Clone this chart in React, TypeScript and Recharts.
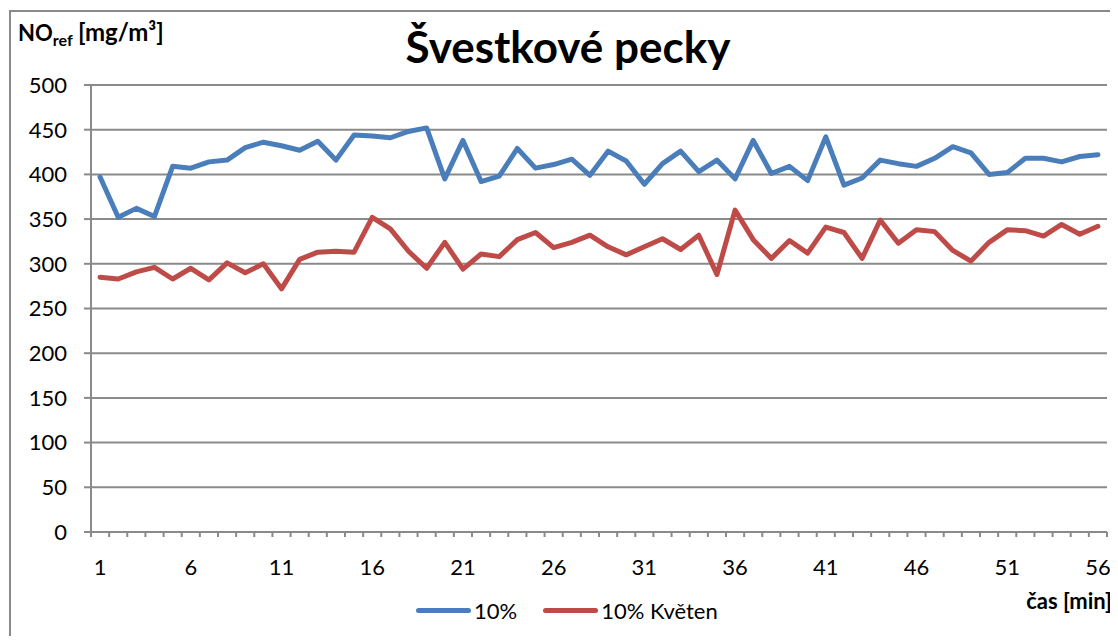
import React from 'react';
import { LineChart, Line, XAxis, YAxis, CartesianGrid, Legend } from 'recharts';

const TIME = [
  1, 2, 3, 4, 5, 6, 7, 8, 9, 10, 11, 12, 13, 14, 15, 16, 17, 18, 19, 20,
  21, 22, 23, 24, 25, 26, 27, 28, 29, 30, 31, 32, 33, 34, 35, 36, 37, 38, 39, 40,
  41, 42, 43, 44, 45, 46, 47, 48, 49, 50, 51, 52, 53, 54, 55, 56,
];

const SERIES_10 = [
  397, 352, 362, 353, 409, 407, 414, 416, 430, 436, 432, 427, 437, 416, 444, 443, 441, 448, 452, 395,
  438, 392, 398, 429, 407, 411, 417, 399, 426, 415, 389, 412, 426, 403, 416, 395, 438, 401, 409, 393,
  442, 388, 396, 416, 412, 409, 418, 431, 424, 400, 402, 418, 418, 414, 420, 422,
];

const SERIES_10_KVETEN = [
  285, 283, 291, 296, 283, 295, 282, 301, 290, 300, 272, 305, 313, 314, 313, 352, 339, 314, 295, 324,
  294, 311, 308, 327, 335, 318, 324, 332, 319, 310, 319, 328, 316, 332, 288, 360, 327, 306, 326, 312,
  341, 335, 306, 349, 323, 338, 336, 315, 303, 324, 338, 337, 331, 344, 333, 342,
];

const X_LABELS = [1, 6, 11, 16, 21, 26, 31, 36, 41, 46, 51, 56];
const Y_TICKS = [0, 50, 100, 150, 200, 250, 300, 350, 400, 450, 500];

const BLUE = '#4a7ebb';
const RED = '#be4b48';
const GRID = '#8a8a8a';

const data = TIME.map((t, i) => ({ t, a: SERIES_10[i], b: SERIES_10_KVETEN[i] }));

// tick marks sit between categories, labels sit on them
const boundaries = [...TIME.map(t => t - 0.5), TIME[TIME.length - 1] + 0.5];
const xTicks = [...boundaries, ...X_LABELS].sort((p, q) => p - q);

const XTick = (props: any) => {
  const { x, y, payload } = props;
  const v = payload.value;
  if (v % 1 !== 0) {
    return <line x1={x} x2={x} y1={y - 5} y2={y} stroke={GRID} strokeWidth={2} />;
  }
  return (
    <text x={x} y={y + 38} textAnchor="middle" fontSize={22} fill="#000">
      {v}
    </text>
  );
};

const LegendContent = () => (
  <div style={{ display: 'flex', alignItems: 'center', height: 24, fontSize: 22, color: '#000', whiteSpace: 'nowrap' }}>
    <span style={{ width: 55, height: 5, borderRadius: 3, background: BLUE, display: 'inline-block' }} />
    <span style={{ marginLeft: 3 }}>10%</span>
    <span style={{ width: 55, height: 5, borderRadius: 3, background: RED, display: 'inline-block', marginLeft: 26 }} />
    <span style={{ marginLeft: 3 }}>10% Květen</span>
  </div>
);

export default function App() {
  return (
    <div style={{ position: 'relative', width: 1110, height: 628, overflow: 'hidden', fontFamily: 'Lato, sans-serif', background: '#fff' }}>
      <div style={{ position: 'absolute', left: 1, top: 2, width: 1300, height: 1000, border: `2px solid ${GRID}`, boxSizing: 'border-box' }} />
      <div style={{ position: 'absolute', left: 0, top: 16, width: 1120, textAlign: 'center', fontSize: 44, fontWeight: 700, lineHeight: 1 }}>
        Švestkové pecky
      </div>
      <div style={{ position: 'absolute', left: 10, top: 12, fontSize: 22, fontWeight: 700, lineHeight: 1, whiteSpace: 'nowrap' }}>
        NO<sub style={{ fontSize: 16 }}>ref</sub> <span style={{ fontSize: 24 }}>[mg/m³]</span>
      </div>
      <div style={{ position: 'absolute', right: 6, top: 582, fontSize: 22, fontWeight: 700, lineHeight: 1 }}>
        čas [min]
      </div>
      <div style={{ position: 'absolute', left: 0, top: 0 }}>
        <LineChart width={1110} height={628} data={data} margin={{ top: 77, right: 11, bottom: 0, left: 0 }}>
          <CartesianGrid vertical={false} stroke={GRID} strokeWidth={2} />
          <XAxis
            dataKey="t"
            type="number"
            domain={[0.5, 56.5]}
            ticks={xTicks}
            interval={0}
            tick={<XTick />}
            tickLine={false}
            tickSize={5}
            tickMargin={0}
            height={104}
            axisLine={{ stroke: GRID, strokeWidth: 2 }}
          />
          <YAxis
            domain={[0, 500]}
            ticks={Y_TICKS}
            interval={0}
            width={83}
            tickSize={7}
            tickMargin={17}
            tick={{ fontSize: 22, fill: '#000' }}
            tickLine={{ stroke: GRID, strokeWidth: 2 }}
            axisLine={{ stroke: GRID, strokeWidth: 2 }}
          />
          <Legend
            layout="horizontal"
            verticalAlign="middle"
            align="center"
            content={<LegendContent />}
            wrapperStyle={{ left: 408, top: 590, width: 'auto' }}
          />
          <Line dataKey="a" name="10%" stroke={BLUE} strokeWidth={5} dot={false} isAnimationActive={false} strokeLinejoin="round" strokeLinecap="round" />
          <Line dataKey="b" name="10% Květen" stroke={RED} strokeWidth={5} dot={false} isAnimationActive={false} strokeLinejoin="round" strokeLinecap="round" />
        </LineChart>
      </div>
    </div>
  );
}
